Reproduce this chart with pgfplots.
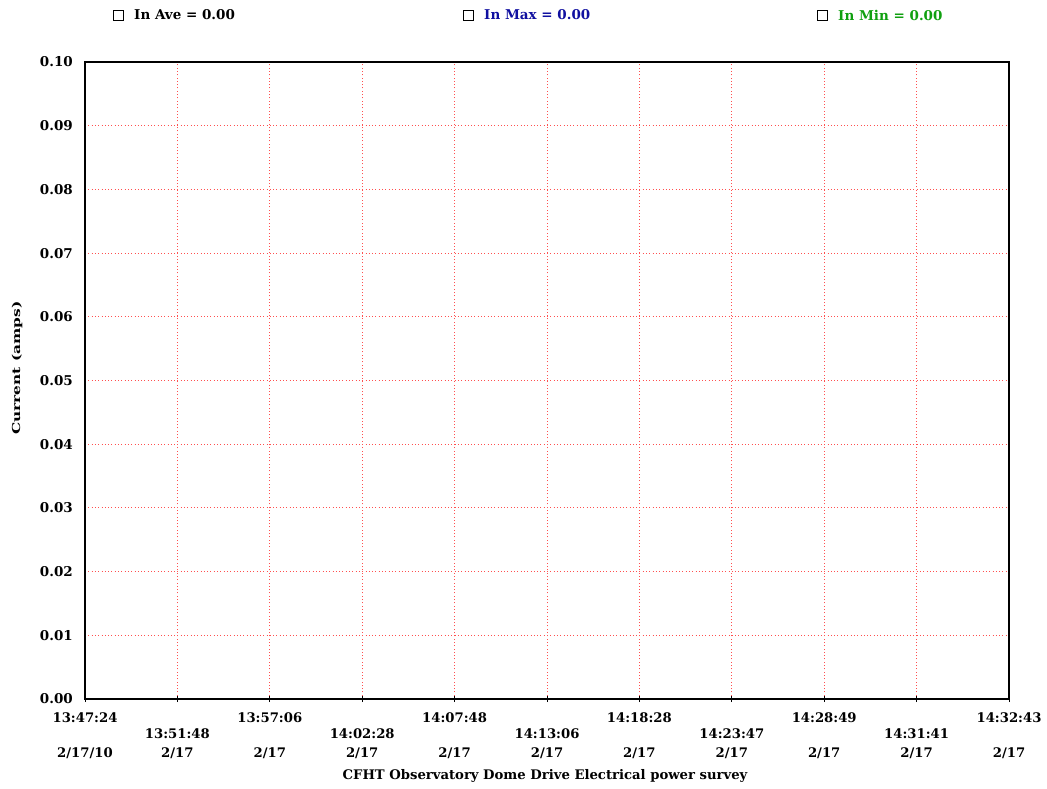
\documentclass[border=0pt]{standalone}
\usepackage{fontspec}
\setmainfont{DejaVu Serif}
\usepackage{pgfplots}
\pgfplotsset{compat=1.18}
\definecolor{legblue}{RGB}{16,16,160}
\definecolor{leggreen}{RGB}{16,160,16}
\definecolor{gridred}{RGB}{255,80,80}
\begin{document}
\begin{tikzpicture}[x=1pt,y=1pt]
\path[use as bounding box] (0,0) rectangle (1047,788);
\begin{axis}[at={(85pt,89pt)}, anchor=south west,
  width=924pt, height=637pt, scale only axis,
  xmin=0, xmax=10, ymin=0, ymax=0.1,
  axis on top,
  axis line style={black, line width=1.3pt},
  xtick={0,1,2,3,4,5,6,7,8,9,10},
  ytick={0,0.01,0.02,0.03,0.04,0.05,0.06,0.07,0.08,0.09,0.1},
  xticklabels={
    {13:47:24\\\phantom{0}\\[3pt]2/17/10},
    {\phantom{0}\\13:51:48\\[3pt]2/17},
    {13:57:06\\\phantom{0}\\[3pt]2/17},
    {\phantom{0}\\14:02:28\\[3pt]2/17},
    {14:07:48\\\phantom{0}\\[3pt]2/17},
    {\phantom{0}\\14:13:06\\[3pt]2/17},
    {14:18:28\\\phantom{0}\\[3pt]2/17},
    {\phantom{0}\\14:23:47\\[3pt]2/17},
    {14:28:49\\\phantom{0}\\[3pt]2/17},
    {\phantom{0}\\14:31:41\\[3pt]2/17},
    {14:32:43\\\phantom{0}\\[3pt]2/17}},
  xticklabel style={align=center, font=\fontsize{13.2}{16}\selectfont\bfseries, anchor=north, inner sep=0pt, yshift=-11pt},
  yticklabel style={font=\fontsize{13.5}{15}\selectfont\bfseries, anchor=east, inner sep=0pt, xshift=-9pt},
  /pgf/number format/assume math mode=true,
  yticklabel={\pgfmathprintnumber[fixed,fixed zerofill,precision=2]{\tick}},
  grid=major,
  major grid style={gridred, line width=1pt, dash pattern=on 1pt off 2.3pt},
  x tick style={black, line width=1pt},
  major tick length=6pt,
  tick align=center,
  y tick style={draw=none},
  xtick pos=bottom, ytick pos=left,
]
\addplot[black, line width=1pt] coordinates {(0,0) (1,0) (2,0) (3,0) (4,0) (5,0) (6,0) (7,0) (8,0) (9,0) (10,0)};
\addplot[legblue, line width=1pt] coordinates {(0,0) (1,0) (2,0) (3,0) (4,0) (5,0) (6,0) (7,0) (8,0) (9,0) (10,0)};
\addplot[leggreen, line width=1pt] coordinates {(0,0) (1,0) (2,0) (3,0) (4,0) (5,0) (6,0) (7,0) (8,0) (9,0) (10,0)};
\end{axis}
\node[font=\fontsize{11}{13}\selectfont\bfseries, rotate=90, xscale=1.4] at (17,420) {Current (amps)};
\node[font=\fontsize{13.2}{15}\selectfont\bfseries] at (545,12) {CFHT Observatory Dome Drive Electrical power survey};
\draw[black, line width=0.9pt] (113,768) rectangle (123,778);
\node[font=\fontsize{13.5}{15}\selectfont\bfseries, anchor=west, inner sep=0pt] at (134,773) {In Ave = 0.00};
\draw[black, line width=0.9pt] (463,768) rectangle (473,778);
\node[font=\fontsize{13.5}{15}\selectfont\bfseries, anchor=west, inner sep=0pt, text=legblue] at (484,773) {In Max = 0.00};
\draw[black, line width=0.9pt] (817,768) rectangle (827,778);
\node[font=\fontsize{13.5}{15}\selectfont\bfseries, anchor=west, inner sep=0pt, text=leggreen] at (838,773) {In Min = 0.00};
\end{tikzpicture}
\end{document}
